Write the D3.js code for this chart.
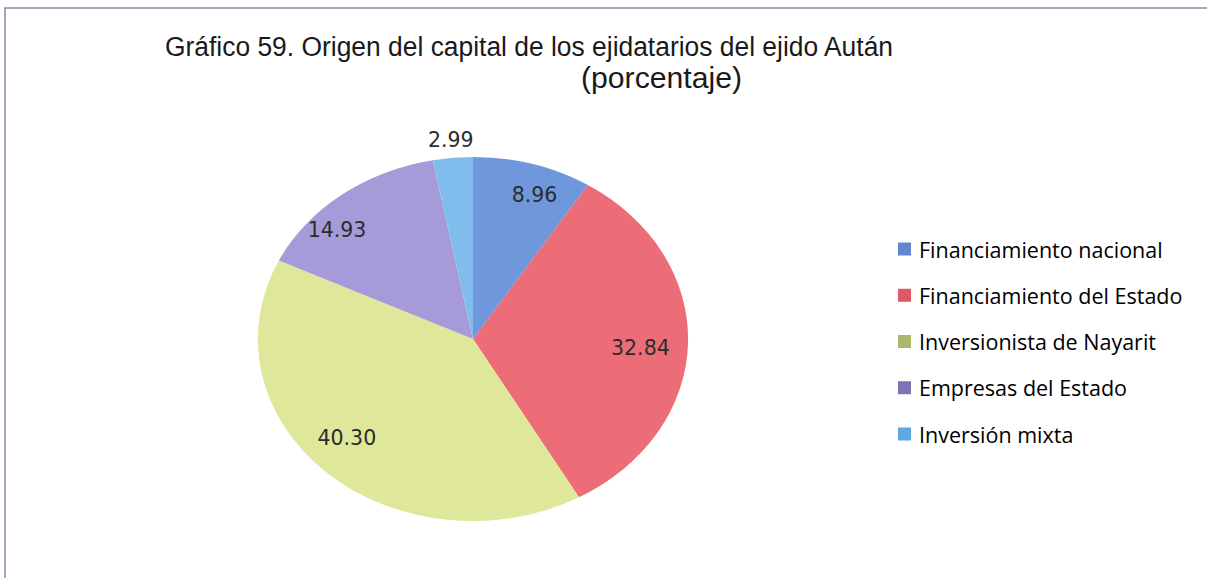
<!DOCTYPE html>
<html>
<head>
<meta charset="utf-8">
<script src="https://cdn.jsdelivr.net/npm/d3@7/dist/d3.min.js"></script>
<style>
  html, body { margin: 0; padding: 0; background: #ffffff; }
  svg { display: block; }
</style>
</head>
<body>
<svg id="chart" width="1207" height="578"></svg>
<script>
// Origen del capital (porcentaje)
const categories = [
  "Financiamiento nacional",
  "Financiamiento del Estado",
  "Inversionista de Nayarit",
  "Empresas del Estado",
  "Inversión mixta"
];
const values = [8.96, 32.84, 40.30, 14.93, 2.99];
const valueLabels = ["8.96", "32.84", "40.30", "14.93", "2.99"];
const sliceColors = ["#6f97dc", "#ec6c78", "#dfe79b", "#a69bd8", "#80bdec"];
const swatchColors = ["#5f86cf", "#dc5a66", "#a9b86c", "#7f73b4", "#5ea8e0"];

const svg = d3.select("#chart");

// frame
svg.append("path")
  .attr("d", "M5,578 L5,8 L1207,8")
  .attr("fill", "none")
  .attr("stroke", "#8a8aa6")
  .attr("stroke-width", 1.5);

// title
const titleFont = "Liberation Sans, Arial, sans-serif";
svg.append("text")
  .attr("x", 165).attr("y", 56)
  .attr("font-family", titleFont)
  .attr("font-size", 27)
  .attr("textLength", 728)
  .attr("lengthAdjust", "spacingAndGlyphs")
  .attr("fill", "#1a1a1a")
  .text("Gráfico 59. Origen del capital de los ejidatarios del ejido Aután");
svg.append("text")
  .attr("x", 581).attr("y", 88)
  .attr("font-family", titleFont)
  .attr("font-size", 29)
  .attr("textLength", 161)
  .attr("lengthAdjust", "spacingAndGlyphs")
  .attr("fill", "#1a1a1a")
  .text("(porcentaje)");

// pie, drawn as a unit circle stretched into an ellipse
const cx = 473, cy = 339, rx = 215, ry = 182;
const pie = d3.pie().sort(null).value(d => d)(values);
const arc = d3.arc().innerRadius(0).outerRadius(1);

const pieG = svg.append("g")
  .attr("transform", `translate(${cx},${cy}) scale(${rx},${ry})`);
pieG.selectAll("path")
  .data(pie)
  .join("path")
  .attr("d", arc)
  .attr("fill", (d, i) => sliceColors[i])
  .attr("stroke", "none");

// data labels: radius (fraction of the ellipse) and angle nudge per slice
const labelRadius = [0.84, 0.78, 0.80, 0.87, 1.10];
const labelNudgeDeg = [3.8, 2.2, 4.2, -9, 0];
const labelG = svg.append("g");
pie.forEach((d, i) => {
  const a = (d.startAngle + d.endAngle) / 2 + labelNudgeDeg[i] * Math.PI / 180;
  const r = labelRadius[i];
  const x = cx + Math.sin(a) * r * rx;
  const y = cy - Math.cos(a) * r * ry;
  labelG.append("text")
    .attr("x", x).attr("y", y)
    .attr("text-anchor", "middle")
    .attr("dominant-baseline", "central")
    .attr("font-family", "DejaVu Sans, Verdana, sans-serif")
    .attr("font-size", 20.5)
    .attr("fill", "#2c2c2c")
    .text(valueLabels[i]);
});

// legend
const legendY = d3.scalePoint().domain(categories).range([249, 434]);
const legend = svg.append("g");
categories.forEach((c, i) => {
  const y = legendY(c);
  legend.append("rect")
    .attr("x", 898).attr("y", y - 6.5)
    .attr("width", 13).attr("height", 13)
    .attr("fill", swatchColors[i]);
  legend.append("text")
    .attr("x", 919).attr("y", y)
    .attr("dominant-baseline", "central")
    .attr("font-family", "Open Sans, Lato, sans-serif")
    .attr("font-size", 21.5)
    .attr("font-weight", 500)
    .attr("fill", "#000")
    .text(c);
});
</script>
</body>
</html>
